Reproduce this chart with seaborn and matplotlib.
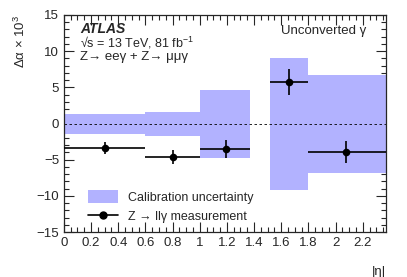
import numpy as np
import matplotlib
matplotlib.use('Agg')
import matplotlib.pyplot as plt
import seaborn as sns
from matplotlib.ticker import MultipleLocator
from matplotlib.patches import Patch
from matplotlib.lines import Line2D

# eta bins and values
bin_lo = [0.0, 0.6, 1.0, 1.52, 1.8]
bin_hi = [0.6, 1.0, 1.37, 1.8, 2.37]
calib_up = [1.35, 1.65, 4.7, 9.1, 6.7]
calib_dn = [-1.45, -1.7, -4.75, -9.2, -6.8]
meas_x = [0.30, 0.80, 1.19, 1.66, 2.08]
meas_y = [-3.4, -4.6, -3.5, 5.7, -3.9]
meas_err = [0.8, 1.0, 1.25, 1.8, 1.5]

sns.set_style('ticks')
plt.rcParams['font.family'] = ['Liberation Sans', 'DejaVu Sans']
plt.rcParams['mathtext.fontset'] = 'custom'
plt.rcParams['mathtext.rm'] = 'Liberation Sans'
plt.rcParams['mathtext.it'] = 'Liberation Sans:italic'

band_color = '#b2b2ff'

fig = plt.figure(figsize=(4.07, 2.77), dpi=100)
ax = fig.add_axes([0.157, 0.162, 0.791, 0.784])

for lo, hi, up, dn in zip(bin_lo, bin_hi, calib_up, calib_dn):
    ax.fill_between([lo, hi], [dn, dn], [up, up], color=band_color, lw=0, zorder=1)

ax.axhline(0, color='black', ls=(0, (3, 3)), lw=0.6, zorder=2)

xerr_lo = [x - lo for x, lo in zip(meas_x, bin_lo)]
xerr_hi = [hi - x for x, hi in zip(meas_x, bin_hi)]
ax.errorbar(meas_x, meas_y, xerr=[xerr_lo, xerr_hi], yerr=meas_err,
            fmt='none', ecolor='black', elinewidth=1.2, capsize=0, zorder=3)
sns.scatterplot(x=meas_x, y=meas_y, color='black', s=30, edgecolor='black',
                linewidth=0, ax=ax, zorder=4)

ax.set_xlim(0, 2.37)
ax.set_ylim(-15, 15)
ax.xaxis.set_major_locator(MultipleLocator(0.2))
ax.xaxis.set_minor_locator(MultipleLocator(0.05))
ax.yaxis.set_major_locator(MultipleLocator(5))
ax.yaxis.set_minor_locator(MultipleLocator(1))
ax.tick_params(which='both', direction='in', top=True, right=True, labelsize=9.5, width=0.8)
ax.tick_params(which='major', length=7)
ax.tick_params(which='minor', length=3.5)
ax.set_xticks(np.arange(0, 2.3, 0.2))
ax.set_xticklabels(['0', '0.2', '0.4', '0.6', '0.8', '1', '1.2', '1.4', '1.6', '1.8', '2', '2.2'])
ax.set_yticks([-15, -10, -5, 0, 5, 10, 15])
ax.set_yticklabels(['\u221215', '\u221210', '\u22125', '0', '5', '10', '15'])
for s in ax.spines.values():
    s.set_linewidth(0.9)

ax.set_xlabel('|\u03b7|', fontsize=9.5, loc='right', labelpad=12)
ax.set_ylabel('\u0394\u03b1 \u00d7 10$^{3}$', fontsize=9.5, loc='top', labelpad=6)

ax.text(0.05, 0.918, 'ATLAS', transform=ax.transAxes, fontsize=10,
        fontweight='bold', fontstyle='italic')
ax.text(0.05, 0.849, '\u221as = 13 TeV, 81 fb$^{-1}$', transform=ax.transAxes, fontsize=9)
ax.text(0.05, 0.792, 'Z\u2192 ee\u03b3 + Z\u2192 \u03bc\u03bc\u03b3', transform=ax.transAxes, fontsize=9.5)
ax.text(0.94, 0.913, 'Unconverted \u03b3', transform=ax.transAxes, fontsize=9.5, ha='right')

handles = [Patch(facecolor=band_color, edgecolor='none'),
           Line2D([0], [0], color='black', marker='o', markersize=5, lw=1.2)]
labels = ['Calibration uncertainty', 'Z \u2192 ll\u03b3 measurement']
ax.legend(handles, labels, loc='lower left', bbox_to_anchor=(0.04, -0.01), frameon=False,
          fontsize=9, handlelength=2.4, handleheight=1.2, labelspacing=0.45)

fig.savefig('out.png', dpi=100)
